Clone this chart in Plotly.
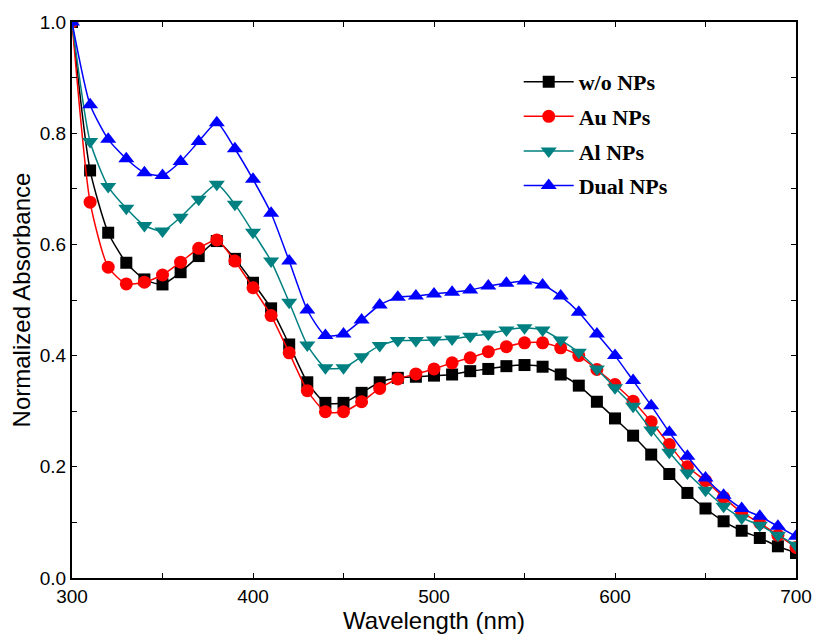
import plotly.graph_objects as go

# Wavelength grid (nm)
wavelength = list(range(300, 701, 10))

# Normalized absorbance spectra
wo_nps = [1.000, 0.733, 0.621, 0.567, 0.537, 0.528, 0.550, 0.579, 0.606, 0.574, 0.531,
          0.485, 0.420, 0.352, 0.315, 0.315, 0.333, 0.352, 0.360, 0.362, 0.364, 0.366,
          0.372, 0.376, 0.381, 0.383, 0.380, 0.366, 0.346, 0.317, 0.287, 0.256, 0.222,
          0.187, 0.153, 0.125, 0.102, 0.085, 0.072, 0.057, 0.045]
au_nps = [1.000, 0.676, 0.559, 0.529, 0.532, 0.545, 0.568, 0.593, 0.608, 0.570, 0.522,
          0.472, 0.405, 0.337, 0.299, 0.299, 0.317, 0.341, 0.358, 0.367, 0.376, 0.387,
          0.396, 0.407, 0.416, 0.423, 0.423, 0.414, 0.400, 0.375, 0.348, 0.318, 0.281,
          0.240, 0.200, 0.175, 0.145, 0.118, 0.099, 0.077, 0.055]
al_nps = [1.000, 0.785, 0.704, 0.665, 0.634, 0.624, 0.649, 0.681, 0.708, 0.672, 0.622,
          0.570, 0.496, 0.419, 0.378, 0.378, 0.398, 0.418, 0.427, 0.427, 0.428, 0.430,
          0.435, 0.439, 0.446, 0.450, 0.446, 0.428, 0.406, 0.376, 0.342, 0.309, 0.266,
          0.226, 0.189, 0.158, 0.129, 0.108, 0.095, 0.077, 0.059]
dual_nps = [1.000, 0.851, 0.789, 0.754, 0.729, 0.724, 0.749, 0.785, 0.819, 0.772, 0.717,
            0.656, 0.570, 0.482, 0.436, 0.439, 0.464, 0.491, 0.505, 0.507, 0.511, 0.514,
            0.518, 0.525, 0.530, 0.534, 0.527, 0.507, 0.478, 0.439, 0.400, 0.355, 0.310,
            0.262, 0.219, 0.180, 0.149, 0.125, 0.111, 0.093, 0.075]

series = [
    ("w/o NPs", wo_nps, "#000000", "square", 12),
    ("Au NPs", au_nps, "#FF0000", "circle", 13),
    ("Al NPs", al_nps, "#008080", "triangle-down", 14),
    ("Dual NPs", dual_nps, "#0000FF", "triangle-up", 14),
]

fig = go.Figure()
for i, (name, vals, color, symbol, size) in enumerate(series):
    fig.add_trace(go.Scatter(
        x=wavelength, y=vals, name=name, mode="lines+markers",
        legendgroup=f"g{i}",
        line=dict(color=color, width=1.5, shape="spline", smoothing=0.6),
        marker=dict(symbol=symbol, size=size, color=color, line=dict(width=0)),
    ))

axis_common = dict(
    showline=True, linecolor="black", linewidth=2, mirror="ticks",
    ticks="inside", ticklen=5, tickwidth=1, tickcolor="black",
    showgrid=False, zeroline=False,
    tickfont=dict(family="Arial, Liberation Sans, sans-serif", size=19, color="black"),
    title_font=dict(family="Arial, Liberation Sans, sans-serif", size=24, color="black"),
)

fig.update_xaxes(
    range=[300, 700], dtick=100, tick0=300,
    minor=dict(dtick=50, ticks="inside", ticklen=5, tickcolor="black", showgrid=False),
    title_text="Wavelength (nm)", title_standoff=2,
    **axis_common,
)
fig.update_yaxes(
    range=[0, 1.0], dtick=0.2, tick0=0, tickformat=".1f",
    minor=dict(dtick=0.1, ticks="inside", ticklen=5, tickcolor="black", showgrid=False),
    title_text="Normalized Absorbance", title_standoff=2,
    **axis_common,
)

fig.update_layout(
    width=824, height=638,
    margin=dict(l=72, r=23, t=22, b=58),
    paper_bgcolor="white", plot_bgcolor="white",
    legend=dict(
        x=0.617, y=0.93, xanchor="left", yanchor="top",
        bgcolor="rgba(0,0,0,0)", borderwidth=0,
        traceorder="grouped", tracegroupgap=3, itemwidth=50,
        font=dict(family="Times New Roman, Liberation Serif, serif", size=22, color="black", weight="bold"),
    ),
)

fig.write_html("out.html")
